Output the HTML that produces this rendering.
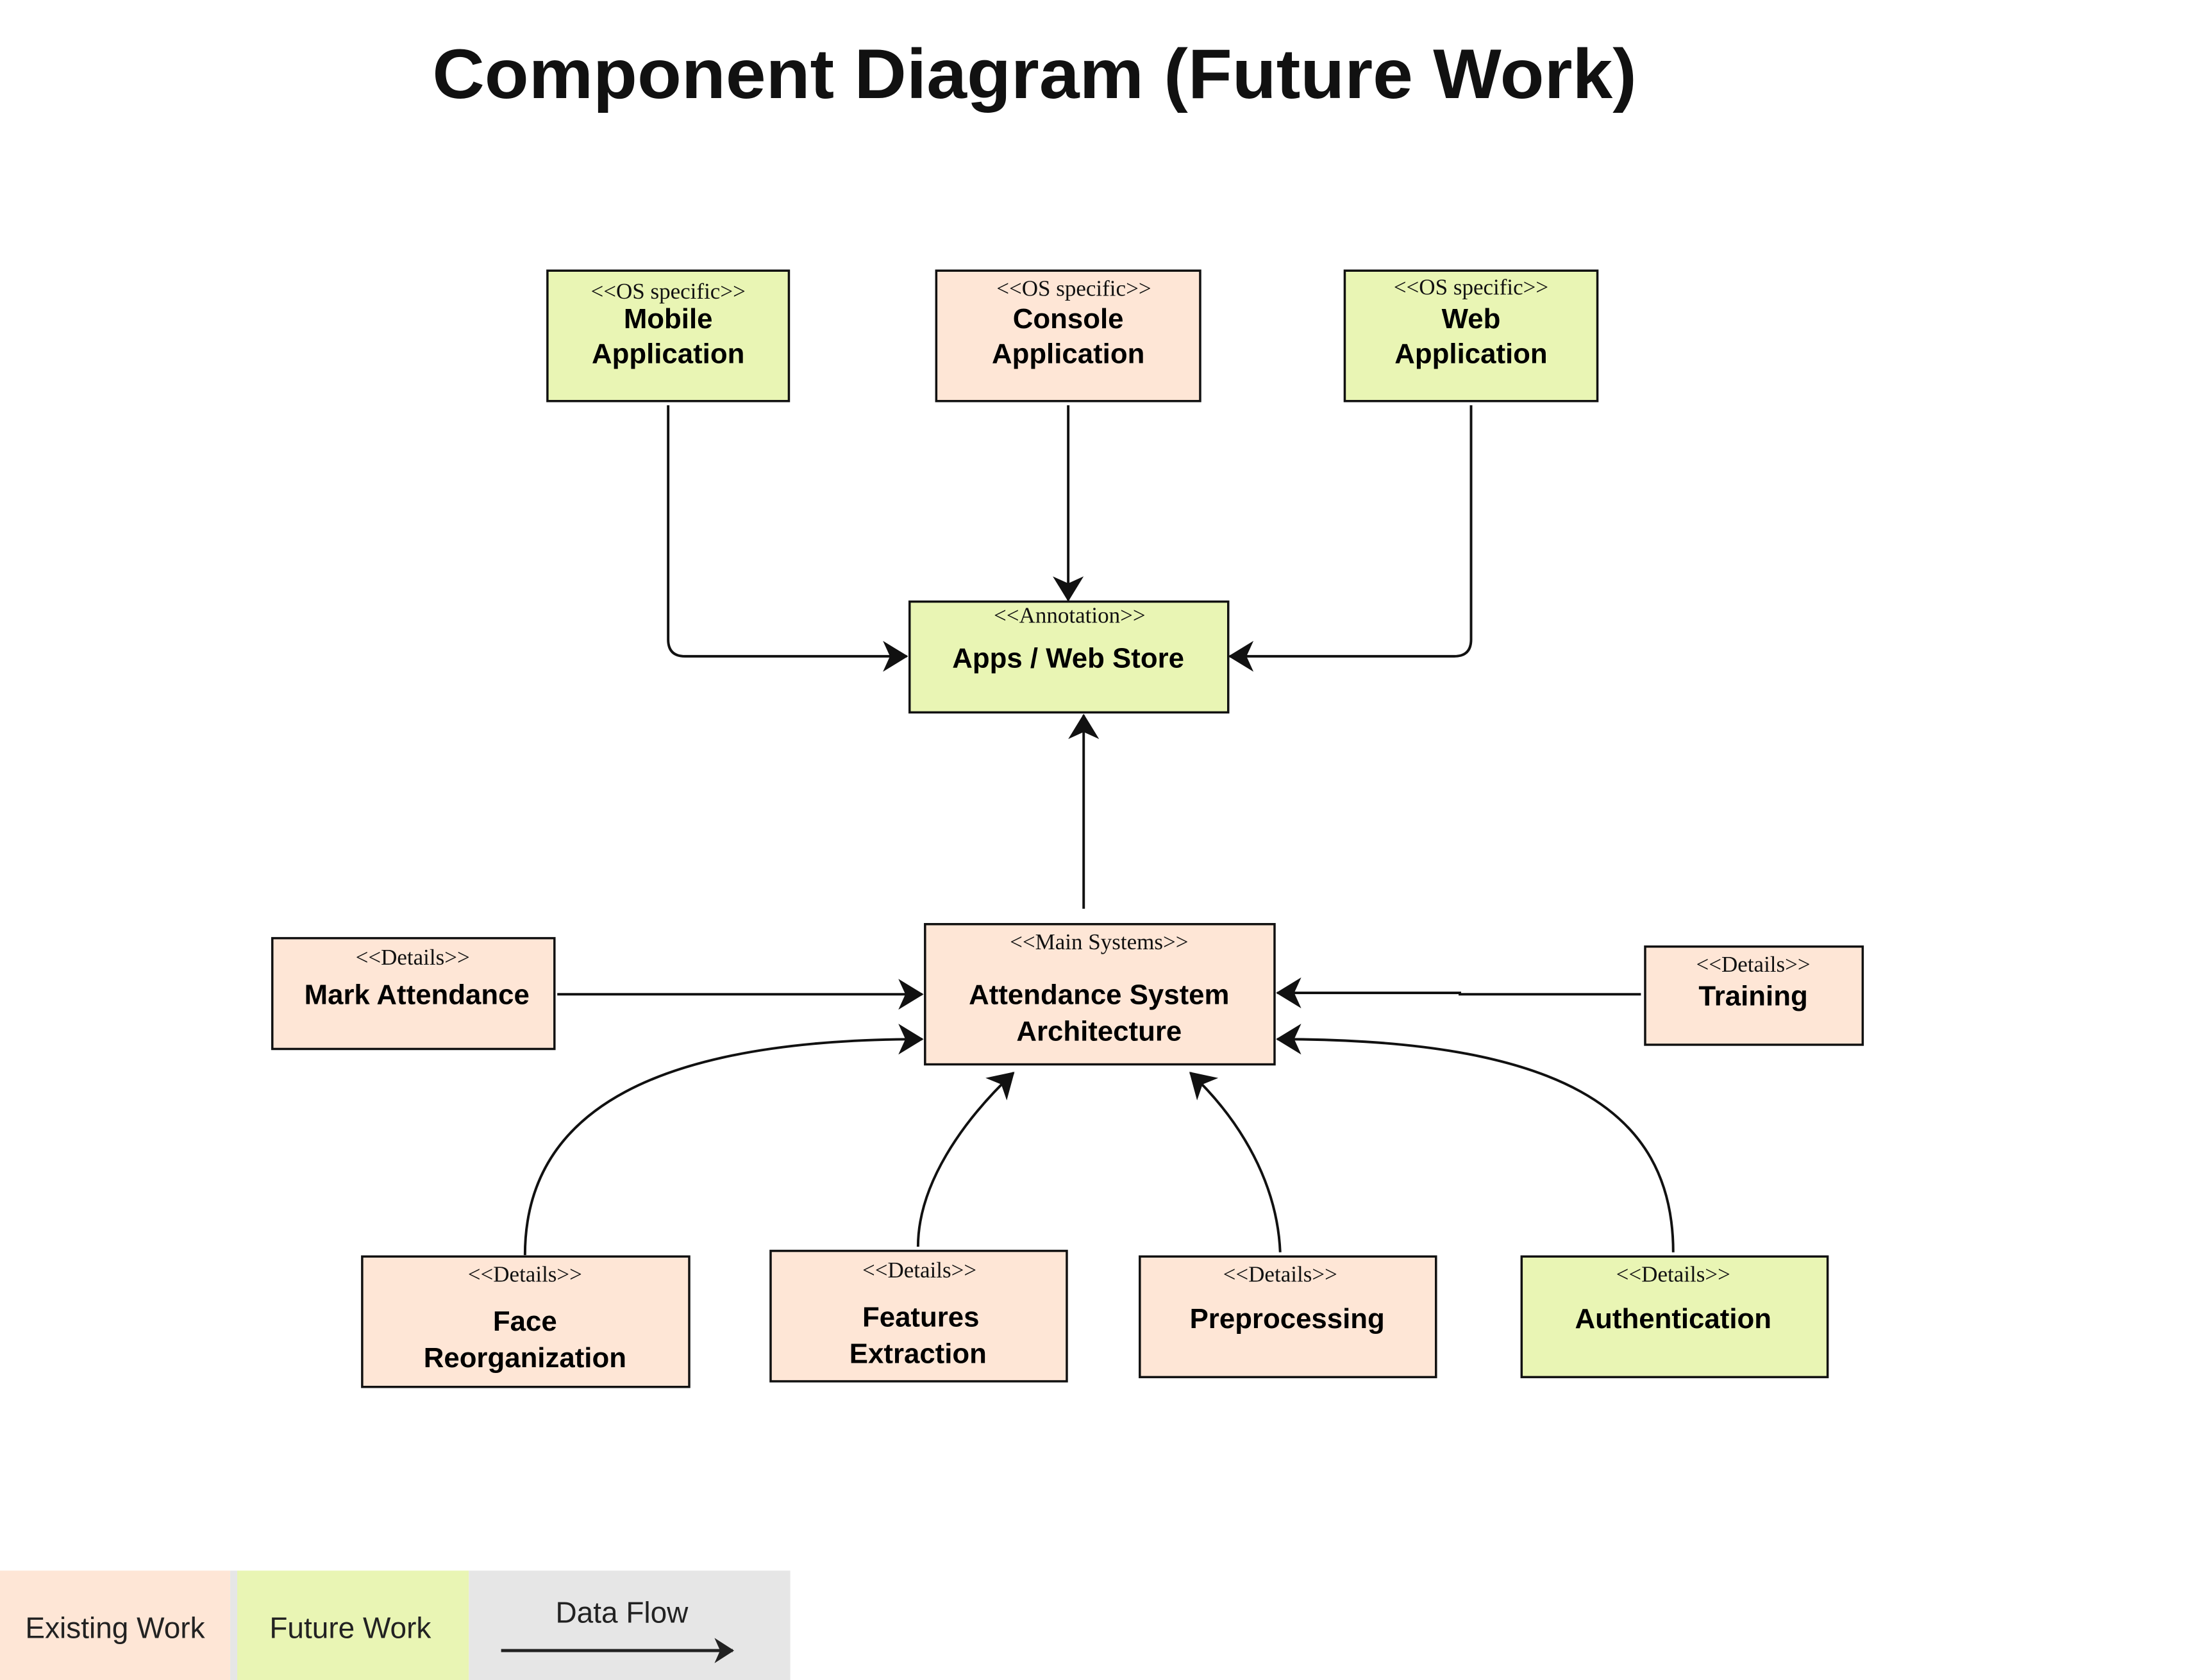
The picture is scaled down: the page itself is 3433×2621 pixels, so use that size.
<!DOCTYPE html>
<html><head><meta charset="utf-8"><style>
html,body{margin:0;padding:0;background:#fff;}
svg{display:block;}
.t{font-family:"Liberation Sans",sans-serif;font-weight:bold;fill:#111;}
.s{font-family:"Liberation Serif",serif;font-size:16px;fill:#111;text-anchor:middle;}
.n{font-family:"Liberation Sans",sans-serif;font-weight:bold;font-size:20px;fill:#000;text-anchor:middle;}
.l{font-family:"Liberation Sans",sans-serif;font-size:21px;fill:#222;}
.e{fill:#fee6d6;stroke:#111;stroke-width:1.6;}
.f{fill:#e9f5b4;stroke:#111;stroke-width:1.6;}
.c{fill:none;stroke:#111;stroke-width:1.8;}
</style></head><body>
<svg width="3433" height="2621" viewBox="0 0 1568 1198" preserveAspectRatio="none" xmlns="http://www.w3.org/2000/svg">
<defs>
<marker id="a" markerWidth="14" markerHeight="18" refX="13" refY="9" orient="auto" markerUnits="userSpaceOnUse" viewBox="0 0 14 18">
<path d="M0,0 L14,9 L0,18 L4,9 z" fill="#222"/>
</marker>
<marker id="b" markerWidth="18" markerHeight="22" refX="17" refY="11" orient="auto" markerUnits="userSpaceOnUse" viewBox="0 0 18 22">
<path d="M0,0 L18,11 L0,22 L5,11 z" fill="#111"/>
</marker>
</defs>
<text class="t" x="737" y="70" font-size="50" text-anchor="middle" textLength="858" lengthAdjust="spacingAndGlyphs">Component Diagram (Future Work)</text>

<!-- connectors -->
<path class="c" d="M476,289 V456 Q476,468 488,468 H646" marker-end="url(#b)"/>
<path class="c" d="M761,289 V428" marker-end="url(#b)"/>
<path class="c" d="M1048,289 V456 Q1048,468 1036,468 H876" marker-end="url(#b)"/>
<path class="c" d="M772,648 V510" marker-end="url(#b)"/>
<path class="c" d="M397,709 H657" marker-end="url(#b)"/>
<path class="c" d="M1169,709 H1040 V708 H910" marker-end="url(#b)"/>
<path class="c" d="M374,895 C374,790 470,741 657,741" marker-end="url(#b)"/>
<path class="c" d="M654,889 C654,845 685,800 722,765" marker-end="url(#b)"/>
<path class="c" d="M912,893 C910,845 885,800 848,765" marker-end="url(#b)"/>
<path class="c" d="M1192,893 C1192,790 1110,741 910,741" marker-end="url(#b)"/>

<!-- boxes -->
<rect class="f" x="390" y="193" width="172" height="93"/>
<text class="s" x="476" y="213">&lt;&lt;OS specific&gt;&gt;</text>
<text class="n" x="476" y="234">Mobile</text><text class="n" x="476" y="259">Application</text>

<rect class="e" x="667" y="193" width="188" height="93"/>
<text class="s" x="765" y="211">&lt;&lt;OS specific&gt;&gt;</text>
<text class="n" x="761" y="234">Console</text><text class="n" x="761" y="259">Application</text>

<rect class="f" x="958" y="193" width="180" height="93"/>
<text class="s" x="1048" y="210">&lt;&lt;OS specific&gt;&gt;</text>
<text class="n" x="1048" y="234">Web</text><text class="n" x="1048" y="259">Application</text>

<rect class="f" x="648" y="429" width="227" height="79"/>
<text class="s" x="762" y="444">&lt;&lt;Annotation&gt;&gt;</text>
<text class="n" x="761" y="476">Apps / Web Store</text>

<rect class="e" x="659" y="659" width="249" height="100"/>
<text class="s" x="783" y="677">&lt;&lt;Main Systems&gt;&gt;</text>
<text class="n" x="783" y="716">Attendance System</text><text class="n" x="783" y="742">Architecture</text>

<rect class="e" x="194" y="669" width="201" height="79"/>
<text class="s" x="294" y="688">&lt;&lt;Details&gt;&gt;</text>
<text class="n" x="297" y="716">Mark Attendance</text>

<rect class="e" x="1172" y="675" width="155" height="70"/>
<text class="s" x="1249" y="693">&lt;&lt;Details&gt;&gt;</text>
<text class="n" x="1249" y="717">Training</text>

<rect class="e" x="258" y="896" width="233" height="93"/>
<text class="s" x="374" y="914">&lt;&lt;Details&gt;&gt;</text>
<text class="n" x="374" y="949">Face</text><text class="n" x="374" y="975">Reorganization</text>

<rect class="e" x="549" y="892" width="211" height="93"/>
<text class="s" x="655" y="911">&lt;&lt;Details&gt;&gt;</text>
<text class="n" x="656" y="946">Features</text><text class="n" x="654" y="972">Extraction</text>

<rect class="e" x="812" y="896" width="211" height="86"/>
<text class="s" x="912" y="914">&lt;&lt;Details&gt;&gt;</text>
<text class="n" x="917" y="947">Preprocessing</text>

<rect class="f" x="1084" y="896" width="218" height="86"/>
<text class="s" x="1192" y="914">&lt;&lt;Details&gt;&gt;</text>
<text class="n" x="1192" y="947">Authentication</text>

<!-- legend -->
<rect x="0" y="1120" width="164" height="78" fill="#fee6d6"/>
<rect x="164" y="1120" width="5" height="78" fill="#e6e6e6"/>
<rect x="169" y="1120" width="165" height="78" fill="#e9f5b4"/>
<rect x="334" y="1120" width="229" height="78" fill="#e6e6e6"/>
<text class="l" x="18" y="1168">Existing Work</text>
<text class="l" x="192" y="1168">Future Work</text>
<text class="l" x="443" y="1157" font-size="24" text-anchor="middle">Data Flow</text>
<path d="M357,1177 H522" stroke="#222" stroke-width="2.2" fill="none" marker-end="url(#a)"/>
</svg>
</body></html>
